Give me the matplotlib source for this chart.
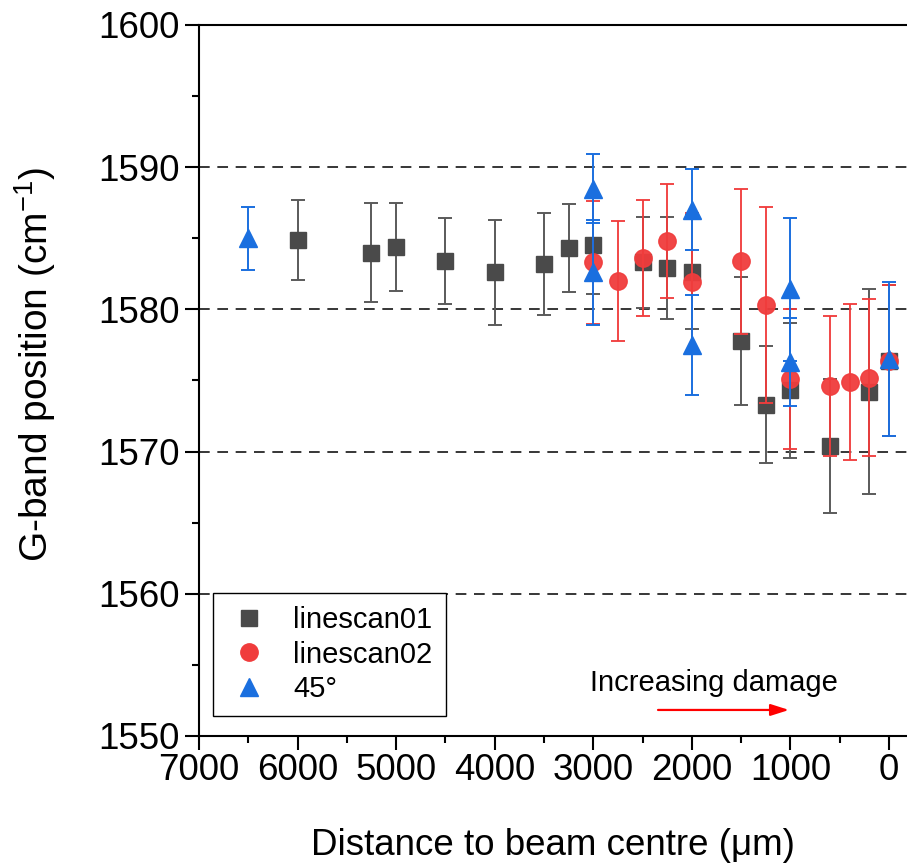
import matplotlib
matplotlib.use("Agg")
import matplotlib.pyplot as plt
from matplotlib.lines import Line2D
from matplotlib.ticker import MultipleLocator

plt.rcParams['font.family'] = ['Liberation Sans', 'DejaVu Sans']
plt.rcParams['mathtext.fontset'] = 'custom'
plt.rcParams['mathtext.rm'] = 'Liberation Sans'

# linescan01
x1 = [6000, 5250, 5000, 4500, 4000, 3500, 3250, 3000, 2500, 2250, 2000, 1500, 1250, 1000, 600, 200, 0]
y1 = [1584.9, 1584.0, 1584.4, 1583.4, 1582.6, 1583.2, 1584.3, 1584.5, 1583.3, 1582.9, 1582.65,
      1577.8, 1573.3, 1574.3, 1570.4, 1574.2, 1576.4]
e1 = [2.8, 3.5, 3.1, 3.0, 3.7, 3.6, 3.1, 3.45, 3.2, 3.6, 4.0, 4.5, 4.1, 4.75, 4.7, 7.2, 5.3]

# linescan02
x2 = [3000, 2750, 2500, 2250, 2000, 1500, 1250, 1000, 600, 400, 200, 0]
y2 = [1583.3, 1582.0, 1583.6, 1584.8, 1581.9, 1583.4, 1580.3, 1575.1, 1574.6, 1574.9, 1575.2, 1576.4]
e2 = [4.3, 4.2, 4.1, 4.0, 4.9, 5.1, 6.9, 4.9, 4.9, 5.5, 5.5, 5.3]

# 45°
x3 = [6500, 3000, 3000, 2000, 2000, 1000, 1000, 0]
y3 = [1585.0, 1588.5, 1582.6, 1587.0, 1577.5, 1581.4, 1576.3, 1576.5]
e3 = [2.2, 2.4, 3.7, 2.85, 3.5, 5.0, 3.1, 5.4]

labels = ['linescan01', 'linescan02', '45°']
x_ticks = [7000, 6000, 5000, 4000, 3000, 2000, 1000, 0]
y_ticks = [1550, 1560, 1570, 1580, 1590, 1600]
grid_levels = [1560, 1570, 1580, 1590]

c_black = '#4a4a4a'
c_black_err = '#5a5a5a'
c_red = '#f03c3c'
c_blue = '#1a6fdf'

fig = plt.figure(figsize=(9.07, 8.68), dpi=100)
ax = fig.add_axes([0.2194, 0.1521, 0.7806, 0.8191])

for g in grid_levels:
    ax.axhline(g, color='black', lw=1.1, ls=(0, (7, 5)), zorder=1)

common = dict(ls='none', capsize=4.8, capthick=1.4, elinewidth=1.4)
ax.errorbar(x1, y1, yerr=e1, marker='s', ms=11.5, mfc=c_black, mec=c_black,
            ecolor=c_black_err, zorder=3, **common)
ax.errorbar(x2, y2, yerr=e2, marker='o', ms=12.5, mfc=c_red, mec=c_red,
            ecolor=c_red, zorder=4, alpha=0.95, **common)
ax.errorbar(x3, y3, yerr=e3, marker='^', ms=13, mfc=c_blue, mec=c_blue,
            ecolor=c_blue, zorder=5, **common)

ax.set_xlim(7000, -183)
ax.set_ylim(1550, 1600)
ax.set_xticks(x_ticks)
ax.set_yticks(y_ticks)
ax.xaxis.set_minor_locator(MultipleLocator(500))
ax.yaxis.set_minor_locator(MultipleLocator(5))
ax.tick_params(which='major', direction='out', length=10, width=1.5, labelsize=26.5)
ax.tick_params(which='minor', direction='out', length=5, width=1.5)
ax.tick_params(axis='x', which='major', pad=2)
ax.tick_params(axis='y', which='major', pad=4)
ax.tick_params(top=False, right=False, which='both')

for s in ['left', 'bottom', 'top']:
    ax.spines[s].set_linewidth(1.5)
ax.spines['right'].set_visible(False)

ax.set_xlabel('Distance to beam centre (μm)', fontsize=26.5, labelpad=29)
ax.set_ylabel('G-band position (cm$\\mathregular{^{-1}}$)', fontsize=28)
ax.yaxis.set_label_coords(-0.199, 0.523)

ax.text(1780, 1553.7, 'Increasing damage', fontsize=21, ha='center', va='center')
ax.annotate('', xy=(1014, 1551.83), xytext=(2343, 1551.83),
            arrowprops=dict(arrowstyle='-|>,head_length=1.1,head_width=0.35',
                            color='#ff0000', lw=1.6, shrinkA=0, shrinkB=0))

handles = [
    Line2D([], [], ls='none', marker='s', ms=11.5, mfc=c_black, mec=c_black),
    Line2D([], [], ls='none', marker='o', ms=12.5, mfc=c_red, mec=c_red),
    Line2D([], [], ls='none', marker='^', ms=13, mfc=c_blue, mec=c_blue),
]
leg = ax.legend(handles, labels, loc='lower left', bbox_to_anchor=(0.0198, 0.028),
                borderaxespad=0, fontsize=21, frameon=True, fancybox=False,
                edgecolor='black', framealpha=1, borderpad=0.45, handlelength=1.6,
                handletextpad=0.7, labelspacing=0.22)
leg.get_frame().set_linewidth(1.0)

fig.savefig('out.png', dpi=100)
